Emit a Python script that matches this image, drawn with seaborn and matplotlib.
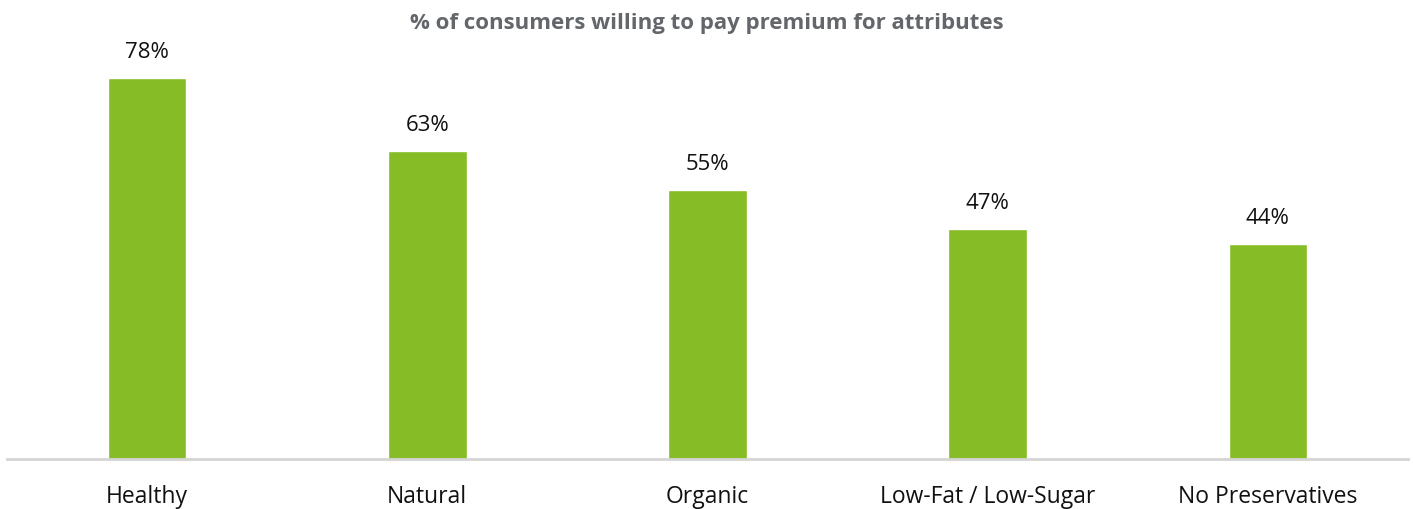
import matplotlib
matplotlib.use("Agg")
import matplotlib.pyplot as plt
import seaborn as sns
import pandas as pd

categories = ["Healthy", "Natural", "Organic", "Low-Fat / Low-Sugar", "No Preservatives"]
values = [78, 63, 55, 47, 44]
value_labels = ["78%", "63%", "55%", "47%", "44%"]
title = "% of consumers willing to pay premium for attributes"

sns.set_theme(style="white")
plt.rcParams['font.family'] = ['Open Sans', 'DejaVu Sans']

df = pd.DataFrame({"attr": categories, "pct": values})

fig = plt.figure(figsize=(14.13, 5.09), dpi=100)
ax = fig.add_axes([7/1413, 50/509, 1401/1413, 424/509])
sns.barplot(data=df, x="attr", y="pct", color="#86BC25", width=0.28,
            saturation=1, ax=ax)
ax.set_ylim(0, 86.8)
ax.set_xlim(-0.5, 4.5)
for i, (v, lab) in enumerate(zip(values, value_labels)):
    ax.annotate(lab, (i, v), xytext=(0, 11), textcoords="offset points",
                ha="center", va="bottom", fontsize=16, color="#111111")
ax.set_xlabel("")
ax.set_ylabel("")
ax.set_yticks([])
ax.tick_params(axis="x", length=0, pad=19, labelsize=16.5, labelcolor="#111111")
for s in ["top", "right", "left"]:
    ax.spines[s].set_visible(False)
ax.spines["bottom"].set_color("#d4d4d4")
ax.spines["bottom"].set_linewidth(2)
fig.text(0.5, 1 - 23/509, title, ha="center", va="center", fontsize=16,
         fontweight="bold", color="#63666a")
fig.savefig("out.png", dpi=100)
